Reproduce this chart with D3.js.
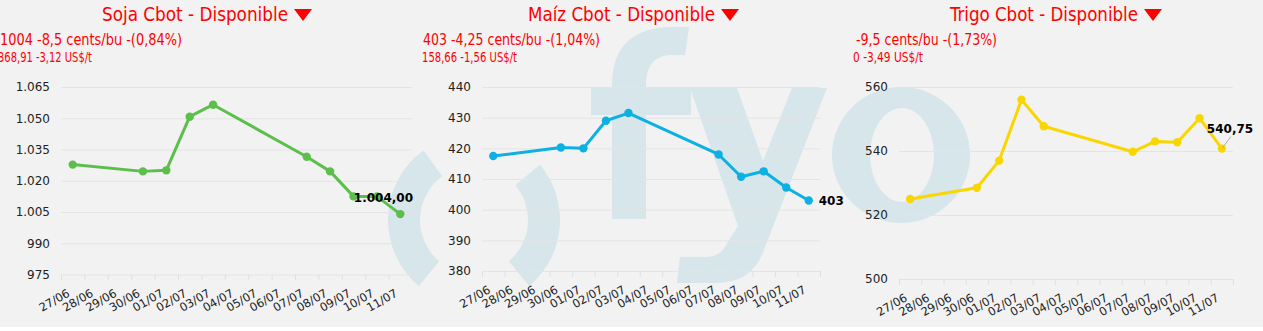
<!DOCTYPE html>
<html>
<head>
<meta charset="utf-8">
<script src="https://cdn.jsdelivr.net/npm/d3@7"></script>
<style>
  html, body { margin: 0; padding: 0; background: #f2f2f2; }
  svg { display: block; }
</style>
</head>
<body>
<div id="chart"></div>
<script>
// categories on the x axis (one band per day)
const days = ["27/06", "28/06", "29/06", "30/06", "01/07", "02/07", "03/07", "04/07",
  "05/07", "06/07", "07/07", "08/07", "09/07", "10/07", "11/07"];
// days that have a quote
const quoteDays = ["27/06", "30/06", "01/07", "02/07", "03/07", "07/07", "08/07", "09/07", "10/07", "11/07"];

const sojaValues = [1027.75, 1024.5, 1025, 1050.75, 1056.5, 1031.5, 1024.5, 1012.5, 1012.5, 1004];
const maizValues = [417.5, 420.25, 420, 429, 431.5, 418, 410.75, 412.5, 407.25, 403];
const trigoValues = [525, 528.5, 537, 556, 547.75, 539.75, 543, 542.75, 550.25, 540.75];

const sojaTicks = [975, 990, 1005, 1020, 1035, 1050, 1065];
const maizTicks = [380, 390, 400, 410, 420, 430, 440];
const trigoTicks = [500, 520, 540, 560];

const titles = ["Soja Cbot - Disponible", "Maíz Cbot - Disponible", "Trigo Cbot - Disponible"];
const subtitles1 = ["1004 -8,5 cents/bu -(0,84%)", "403 -4,25 cents/bu -(1,04%)", "-9,5 cents/bu -(1,73%)"];
const subtitles2 = ["368,91 -3,12 US$/t", "158,66 -1,56 US$/t", "0 -3,49 US$/t"];

const W = 1263, H = 331;
const es = d3.formatLocale({ decimal: ",", thousands: ".", grouping: [3], currency: ["", ""] });

const panels = [
  { values: sojaValues, ticks: sojaTicks, color: "#5cbf4c", fmt: es.format(",.2f"), labelPos: "above",
    x0: 61, x1: 412, yTop: 87, yBot: 274.5, tx: 102, tw: 186, s1x: 0, s1w: 182, s2x: -2, s2w: 94 },
  { values: maizValues, ticks: maizTicks, color: "#0cb0e3", fmt: es.format(",.0f"), labelPos: "right",
    x0: 482, x1: 820, yTop: 87, yBot: 271, tx: 528, tw: 187, s1x: 423, s1w: 177, s2x: 422, s2w: 95 },
  { values: trigoValues, ticks: trigoTicks, color: "#f9d600", fmt: es.format(",.2f"), labelPos: "connector",
    x0: 899, x1: 1233, yTop: 87, yBot: 279, tx: 950, tw: 188, s1x: 856, s1w: 141, s2x: 853, s2w: 70 }
];

const svg = d3.select("#chart").append("svg")
  .attr("width", W)
  .attr("height", H)
  .attr("viewBox", "0 0 " + W + " " + H);

svg.append("rect").attr("width", W).attr("height", H).attr("fill", "#f2f2f2");
svg.append("rect").attr("x", 0).attr("y", 327).attr("width", W).attr("height", 4).attr("fill", "#ffffff");

function ellipse(cx, cy, rx, ry) {
  return "M" + (cx - rx) + "," + cy +
    " A" + rx + "," + ry + " 0 1,0 " + (cx + rx) + "," + cy +
    " A" + rx + "," + ry + " 0 1,0 " + (cx - rx) + "," + cy + " Z";
}

// watermark logo "( )fyo"
const wm = svg.append("g").attr("fill", "#d6e6eb");
const ring = d3.arc().innerRadius(54).outerRadius(86);
const deg = Math.PI / 180;
wm.append("path").attr("transform", "translate(474,220)")
  .attr("d", ring({ startAngle: -140 * deg, endAngle: -36 * deg }));
wm.append("path").attr("transform", "translate(474,220)")
  .attr("d", ring({ startAngle: 50 * deg, endAngle: 140 * deg }));
wm.append("path")
  .attr("d", "M612,219 L612,85 C612,45 635,27 672,27 L689,27 L685,55 L672,55 C655,55 646,65 646,85 L646,219 Z");
wm.append("rect").attr("x", 591).attr("y", 88).attr("width", 100).attr("height", 27);
wm.append("path")
  .attr("d", "M690,88 L737,88 L763,161 L792,88 L827,88 L762,255 Q750,283 715,283 L677,283 L680,257 L706,257 Q720,257 726,245 L738,226 Z");
wm.append("path").attr("fill-rule", "evenodd")
  .attr("d", ellipse(901, 155, 69, 68) + ellipse(902, 155, 32, 47));

const titleFont = "'Liberation Sans Narrow', 'DejaVu Sans Condensed', 'Roboto Condensed', 'Arial Narrow', sans-serif";
const axisFont = "'DejaVu Sans', Verdana, sans-serif";

panels.forEach((p, i) => {
  const g = svg.append("g");

  // titles
  g.append("text")
    .attr("x", p.tx).attr("y", 21)
    .attr("font-family", titleFont).attr("font-size", 20)
    .attr("fill", "#ff0000")
    .attr("textLength", p.tw).attr("lengthAdjust", "spacingAndGlyphs")
    .text(titles[i]);
  const tr = p.tx + p.tw + 6;
  g.append("path")
    .attr("d", "M" + tr + ",9 L" + (tr + 18) + ",9 L" + (tr + 9) + ",21 Z")
    .attr("fill", "#ff0000");
  g.append("text")
    .attr("x", p.s1x).attr("y", 45)
    .attr("font-family", titleFont).attr("font-size", 16)
    .attr("fill", "#ff0000")
    .attr("textLength", p.s1w).attr("lengthAdjust", "spacingAndGlyphs")
    .text(subtitles1[i]);
  g.append("text")
    .attr("x", p.s2x).attr("y", 62)
    .attr("font-family", titleFont).attr("font-size", 14)
    .attr("fill", "#ff0000")
    .attr("textLength", p.s2w).attr("lengthAdjust", "spacingAndGlyphs")
    .text(subtitles2[i]);

  const x = d3.scaleBand().domain(days).range([p.x0, p.x1]);
  const y = d3.scaleLinear().domain([p.ticks[0], p.ticks[p.ticks.length - 1]]).range([p.yBot, p.yTop]);

  // y axis + grid
  const ya = g.append("g")
    .attr("transform", "translate(" + p.x0 + ",0)")
    .call(d3.axisLeft(y).tickValues(p.ticks).tickSize(-(p.x1 - p.x0)).tickPadding(11)
      .tickFormat(es.format(",d")));
  ya.select(".domain").remove();
  ya.selectAll("line").attr("stroke", "#e4e4e4");
  ya.selectAll("text").attr("font-family", axisFont)
    .attr("font-size", 12).attr("fill", "#222");

  // x axis tick marks at day boundaries
  const bounds = days.map(d => x(d)).concat([p.x1]);
  g.append("g").selectAll("line").data(bounds).join("line")
    .attr("x1", d => d + 0.5).attr("x2", d => d + 0.5)
    .attr("y1", p.yBot).attr("y2", p.yBot + 6)
    .attr("stroke", "#e0e0e0");

  g.append("g").selectAll("text").data(days).join("text")
    .attr("transform", d => "translate(" + (x(d) + x.bandwidth() / 2 - 2) + "," + (p.yBot + 21) + ") rotate(-30)")
    .attr("text-anchor", "end")
    .attr("font-family", axisFont)
    .attr("font-size", 11.5)
    .attr("fill", "#222")
    .text(d => d);

  // series
  const pts = quoteDays.map((d, k) => ({ d: d, v: p.values[k] }));
  const cx = d => x(d.d) + x.bandwidth() / 2;
  const line = d3.line().x(cx).y(d => y(d.v));
  g.append("path").datum(pts)
    .attr("d", line)
    .attr("fill", "none")
    .attr("stroke", p.color)
    .attr("stroke-width", 3)
    .attr("stroke-linejoin", "round");
  g.append("g").selectAll("circle").data(pts).join("circle")
    .attr("cx", cx).attr("cy", d => y(d.v)).attr("r", 4.2)
    .attr("fill", p.color);

  // last value label
  const last = pts[pts.length - 1];
  const lx = cx(last), ly = y(last.v);
  const lab = g.append("text")
    .attr("font-family", axisFont)
    .attr("font-size", 12).attr("font-weight", "bold")
    .attr("fill", "#000")
    .text(p.fmt(last.v));
  if (p.labelPos === "above") {
    lab.attr("x", p.x1 + 1).attr("y", ly - 12).attr("text-anchor", "end");
  } else if (p.labelPos === "right") {
    lab.attr("x", lx + 10).attr("y", ly + 4.5);
  } else {
    g.append("line")
      .attr("x1", lx).attr("y1", ly).attr("x2", lx + 9).attr("y2", ly - 12)
      .attr("stroke", "#aaaaaa");
    lab.attr("x", lx - 15).attr("y", ly - 16);
  }
});
</script>
</body>
</html>
